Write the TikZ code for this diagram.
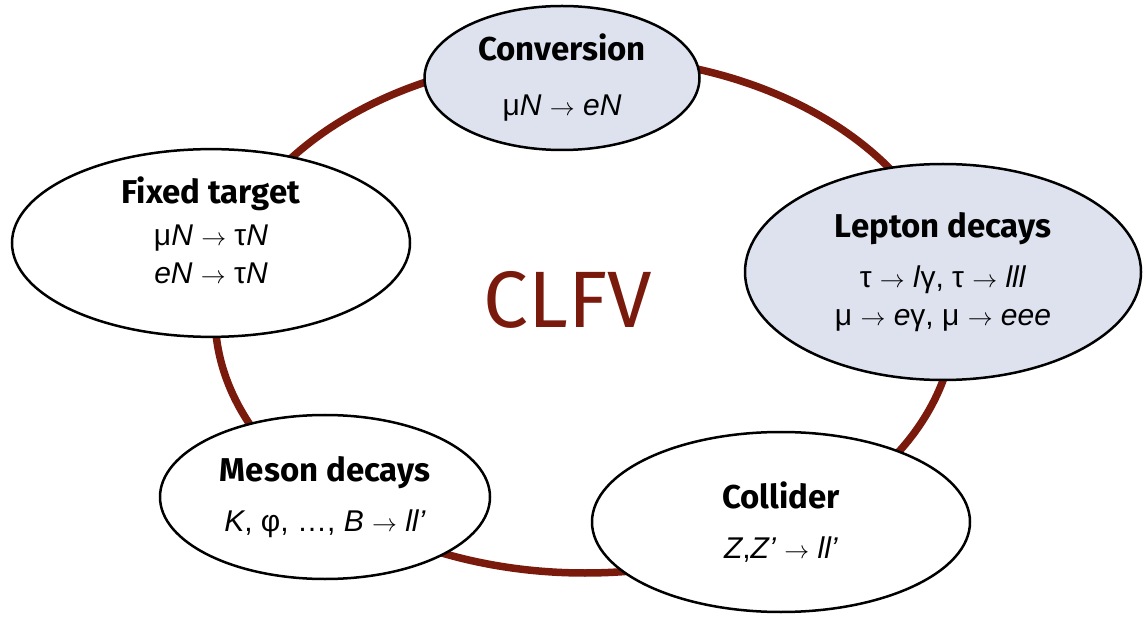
\documentclass[tikz,border=0pt]{standalone}
\usepackage{fontspec}
\setmainfont{Liberation Sans}
\newfontfamily\headfont{Fira Sans}
\usepackage{xcolor}
\usepackage{tikz}
\usetikzlibrary{shapes}
\definecolor{ringred}{RGB}{122,26,12}
\definecolor{paleblue}{RGB}{221,226,238}
\tikzstyle{ring} = [draw=ringred, line width=7.5pt]
\tikzstyle{blob} = [ellipse, draw=black, line width=2.5pt, fill=white, inner sep=0pt, align=center, font=\fontsize{30}{38}\selectfont]
\tikzstyle{blob-blue} = [blob, fill=paleblue]

\begin{document}
\begin{tikzpicture}[x=1pt, y=-1pt]
        \useasboundingbox (0,0) rectangle (1146,617);

        % the ring behind everything
        \draw [ring] (585,315) ellipse [x radius=370pt, y radius=258pt];

        \node [blob-blue, minimum width=275pt, minimum height=144pt] (conversion) at (562,78)
            {{\headfont\bfseries\fontsize{33}{38}\selectfont Conversion}\\[17pt] μ\textit{N} $\rightarrow$ \textit{eN}};
        \node [blob-blue, minimum width=396pt, minimum height=216pt] (lepton) at (943,272)
            {{\headfont\bfseries\fontsize{33}{38}\selectfont Lepton decays}\\[12pt] τ $\rightarrow$ \textit{l}γ, τ $\rightarrow$ \textit{lll}\\ μ $\rightarrow$ \textit{e}γ, μ $\rightarrow$ \textit{eee}};
        \node [blob, minimum width=398pt, minimum height=186pt] (fixed) at (211,243)
            {{\headfont\bfseries\fontsize{33}{38}\selectfont Fixed target}\\[4pt] μ\textit{N} $\rightarrow$ τ\textit{N}\\ \textit{eN} $\rightarrow$ τ\textit{N}\\[-12pt]\mbox{}};
        \node [blob, minimum width=330pt, minimum height=164pt] (meson) at (325,497)
            {{\headfont\bfseries\fontsize{33}{38}\selectfont Meson decays}\\[12pt] \textit{K}, φ, …, \textit{B} $\rightarrow$ \textit{ll’}};
        \node [blob, minimum width=378pt, minimum height=180pt] (collider) at (781,522)
            {{\headfont\bfseries\fontsize{33}{38}\selectfont Collider}\\[12pt] \textit{Z},\textit{Z’} $\rightarrow$ \textit{ll’}};

        \node [text=ringred, font=\headfont\fontsize{80}{80}\selectfont] (clfv) at (568,300) {CLFV};
\end{tikzpicture}
\end{document}
